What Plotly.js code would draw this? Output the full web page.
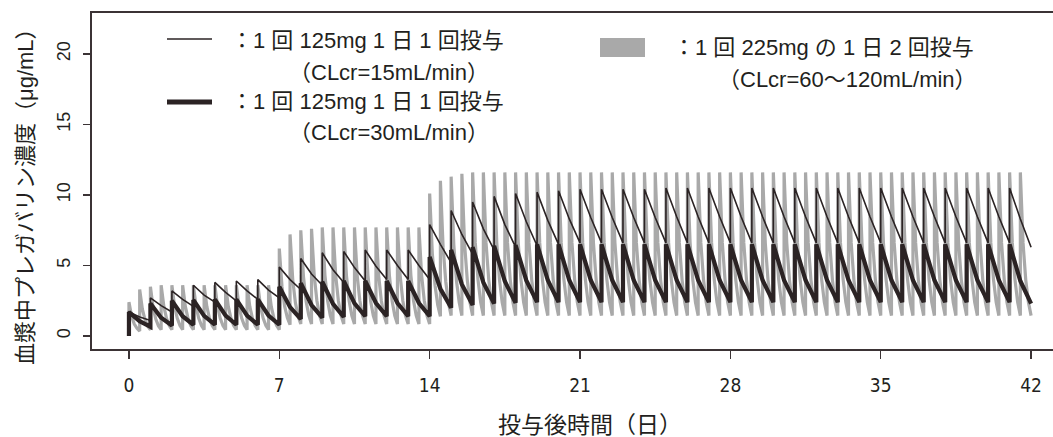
<!DOCTYPE html>
<html>
<head>
<meta charset="utf-8">
<script src="https://cdn.plot.ly/plotly-3.0.1.min.js"></script>
<style>html,body{margin:0;padding:0;background:#fff;}#chart{width:1053px;height:437px;}</style>
</head>
<body>
<div id="chart"></div>
<script>
// ---- data ----
const xTicks = [0, 7, 14, 21, 28, 35, 42];
const yTicks = [0, 5, 10, 15, 20];

// 125mg once daily, CLcr=15mL/min : at dose peak, +12h, +24h (trough)
const thinPeak = [1.7,2.7,3.2,3.6,3.8,3.9,4.0, 4.9,5.5,5.9,6.0,6.1,6.1,6.1, 7.9,8.9,9.5,9.9,10.1,10.2,10.3,
  10.4,10.4,10.4,10.4,10.5,10.5,10.5, 10.5,10.5,10.5,10.5,10.5,10.5,10.5, 10.5,10.5,10.5,10.5,10.5,10.5,10.5];
const thinMid = [1.35,2.15,2.6,2.9,3.1,3.2,3.25, 4.0,4.4,4.7,4.85,4.95,5.0,5.0, 6.5,7.2,7.6,7.9,8.1,8.2,8.3,
  8.4,8.4,8.4,8.4,8.45,8.45,8.45, 8.45,8.45,8.45,8.45,8.45,8.45,8.45, 8.45,8.45,8.45,8.45,8.45,8.45,8.3];
const thinTrough = [1.1,1.7,2.1,2.4,2.5,2.6,2.7, 3.3,3.6,3.8,3.9,4.0,4.0,4.0, 5.2,5.8,6.1,6.3,6.4,6.5,6.6,
  6.6,6.6,6.6,6.6,6.6,6.6,6.6, 6.6,6.6,6.6,6.6,6.6,6.6,6.6, 6.6,6.6,6.6,6.6,6.6,6.6,6.3];

// 125mg once daily, CLcr=30mL/min
const thickPeak = [1.7,2.3,2.5,2.55,2.6,2.6,2.6, 3.5,3.75,3.85,3.9,3.9,3.9,3.9, 5.6,6.1,6.3,6.4,6.45,6.5,6.5,
  6.5,6.5,6.5,6.5,6.5,6.5,6.5, 6.5,6.5,6.5,6.5,6.5,6.5,6.5, 6.5,6.5,6.5,6.5,6.5,6.5,6.5];
const thickMid = [1.05,1.3,1.4,1.43,1.44,1.44,1.44, 2.05,2.2,2.28,2.32,2.34,2.34,2.34, 3.35,3.66,3.8,3.88,3.94,3.95,3.95,
  3.95,3.95,3.95,3.95,3.95,3.95,3.95, 3.95,3.95,3.95,3.95,3.95,3.95,3.95, 3.95,3.95,3.95,3.95,3.95,3.95,3.9];
const thickTrough = [0.65,0.75,0.8,0.8,0.8,0.8,0.8, 1.2,1.3,1.35,1.4,1.4,1.4,1.4, 2.0,2.2,2.3,2.35,2.4,2.4,2.4,
  2.4,2.4,2.4,2.4,2.4,2.4,2.4, 2.4,2.4,2.4,2.4,2.4,2.4,2.4, 2.4,2.4,2.4,2.4,2.4,2.4,2.3];

// 225mg twice daily, CLcr=60~120mL/min : peak, +3h, +6h, +9h, +12h (trough); 14 doses per week
const grayPeak = [
  2.4,3.3,3.5,3.6,3.6,3.6,3.6,3.6,3.6,3.6,3.6,3.6,3.6,3.6,
  6.2,7.2,7.5,7.6,7.7,7.7,7.7,7.7,7.7,7.7,7.7,7.7,7.7,7.7,
  10.1,11.0,11.3,11.5,11.6,11.6,11.6,11.6,11.6,11.6,11.6,11.6,11.6,11.6,
  11.6,11.6,11.6,11.6,11.6,11.6,11.6,11.6,11.6,11.6,11.6,11.6,11.6,11.6,
  11.6,11.6,11.6,11.6,11.6,11.6,11.6,11.6,11.6,11.6,11.6,11.6,11.6,11.6,
  11.6,11.6,11.6,11.6,11.6,11.6,11.6,11.6,11.6,11.6,11.6,11.6,11.6,11.6];
const grayQ1 = [
  1.4,1.9,2.0,2.1,2.1,2.1,2.1,2.1,2.1,2.1,2.1,2.1,2.1,2.1,
  3.5,4.0,4.2,4.3,4.3,4.3,4.3,4.3,4.3,4.3,4.3,4.3,4.3,4.3,
  5.8,6.3,6.45,6.55,6.6,6.6,6.6,6.6,6.6,6.6,6.6,6.6,6.6,6.6,
  6.6,6.6,6.6,6.6,6.6,6.6,6.6,6.6,6.6,6.6,6.6,6.6,6.6,6.6,
  6.6,6.6,6.6,6.6,6.6,6.6,6.6,6.6,6.6,6.6,6.6,6.6,6.6,6.6,
  6.6,6.6,6.6,6.6,6.6,6.6,6.6,6.6,6.6,6.6,6.6,6.6,6.6,6.6];
const grayMid = [
  0.85,1.15,1.2,1.25,1.25,1.25,1.25,1.25,1.25,1.25,1.25,1.25,1.25,1.25,
  2.1,2.35,2.45,2.5,2.5,2.5,2.5,2.5,2.5,2.5,2.5,2.5,2.5,2.5,
  3.6,3.85,3.9,4.0,4.0,4.0,4.0,4.0,4.0,4.0,4.0,4.0,4.0,4.0,
  4.0,4.0,4.0,4.0,4.0,4.0,4.0,4.0,4.0,4.0,4.0,4.0,4.0,4.0,
  4.0,4.0,4.0,4.0,4.0,4.0,4.0,4.0,4.0,4.0,4.0,4.0,4.0,4.0,
  4.0,4.0,4.0,4.0,4.0,4.0,4.0,4.0,4.0,4.0,4.0,4.0,4.0,4.0];
const grayQ3 = [
  0.55,0.7,0.72,0.75,0.75,0.75,0.75,0.75,0.75,0.75,0.75,0.75,0.75,0.75,
  1.3,1.4,1.45,1.45,1.45,1.45,1.45,1.45,1.45,1.45,1.45,1.45,1.45,1.45,
  2.2,2.35,2.4,2.4,2.4,2.4,2.4,2.4,2.4,2.4,2.4,2.4,2.4,2.4,
  2.4,2.4,2.4,2.4,2.4,2.4,2.4,2.4,2.4,2.4,2.4,2.4,2.4,2.4,
  2.4,2.4,2.4,2.4,2.4,2.4,2.4,2.4,2.4,2.4,2.4,2.4,2.4,2.4,
  2.4,2.4,2.4,2.4,2.4,2.4,2.4,2.4,2.4,2.4,2.4,2.4,2.4,2.4];
const grayTrough = [
  0.35,0.45,0.45,0.45,0.45,0.45,0.45,0.45,0.45,0.45,0.45,0.45,0.45,0.45,
  0.8,0.85,0.85,0.85,0.85,0.85,0.85,0.85,0.85,0.85,0.85,0.85,0.85,0.85,
  1.4,1.45,1.45,1.45,1.45,1.45,1.45,1.45,1.45,1.45,1.45,1.45,1.45,1.45,
  1.45,1.45,1.45,1.45,1.45,1.45,1.45,1.45,1.45,1.45,1.45,1.45,1.45,1.45,
  1.45,1.45,1.45,1.45,1.45,1.45,1.45,1.45,1.45,1.45,1.45,1.45,1.45,1.45,
  1.45,1.45,1.45,1.45,1.45,1.45,1.45,1.45,1.45,1.45,1.45,1.45,1.45,1.45];

const legendTexts = [
  '：1 回 125mg 1 日 1 回投与', '（CLcr=15mL/min）',
  '：1 回 125mg 1 日 1 回投与', '（CLcr=30mL/min）',
  '：1 回 225mg の 1 日 2 回投与', '（CLcr=60〜120mL/min）'
];
const xTitle = '投与後時間（日）';
const yTitle = '血漿中プレガバリン濃度（μg/mL）';

// ---- sawtooth: dose at t, then the sampled values at t + f*tau for each fraction f ----
function sawtooth(tau, fractions, series) {
  const x = [0], y = [0];
  for (let i = 0; i < series[0].length; i++) {
    const t = i * tau;
    fractions.forEach((f, k) => { x.push(t + f * tau); y.push(series[k][i]); });
  }
  return {x, y};
}
const thin = sawtooth(1, [0, 0.5, 1], [thinPeak, thinMid, thinTrough]);
const thick = sawtooth(1, [0, 0.5, 1], [thickPeak, thickMid, thickTrough]);
const gray = sawtooth(0.5, [0, 0.25, 0.5, 0.75, 1], [grayPeak, grayQ1, grayMid, grayQ3, grayTrough]);

const DARK = '#2b2324';
const GRAY = '#a9a9a9';

const traces = [
  {x: gray.x, y: gray.y, mode: 'lines', line: {color: GRAY, width: 3.2}, hoverinfo: 'skip'},
  {x: thick.x, y: thick.y, mode: 'lines', line: {color: DARK, width: 4.2}, hoverinfo: 'skip'},
  {x: thin.x, y: thin.y, mode: 'lines', line: {color: DARK, width: 1.6}, hoverinfo: 'skip'}
];

const L = 92, R = 1053, T = 13, B = 349;
const px = v => (v - L) / (R - L);
const py = v => (B - v) / (B - T);

const FONT = 'Liberation Sans, Arial, Noto Sans CJK JP, sans-serif';
const legendFont = {family: FONT, size: 22, color: '#231f20'};

const annotations = [
  {text: legendTexts[0], x: px(229), y: py(40), xanchor: 'left', yanchor: 'middle'},
  {text: legendTexts[1], x: px(287), y: py(72), xanchor: 'left', yanchor: 'middle'},
  {text: legendTexts[2], x: px(229), y: py(102), xanchor: 'left', yanchor: 'middle'},
  {text: legendTexts[3], x: px(287), y: py(132), xanchor: 'left', yanchor: 'middle'},
  {text: legendTexts[4], x: px(671), y: py(48), xanchor: 'left', yanchor: 'middle'},
  {text: legendTexts[5], x: px(716), y: py(80), xanchor: 'left', yanchor: 'middle'},
].map(a => Object.assign(a, {xref: 'paper', yref: 'paper', showarrow: false, font: legendFont}));

annotations.push({text: xTitle, xref: 'paper', yref: 'paper', x: px(590), y: py(425), xanchor: 'center', yanchor: 'middle',
  showarrow: false, font: {family: FONT, size: 23, color: '#231f20'}});
annotations.push({text: yTitle, xref: 'paper', yref: 'paper', x: px(25), y: py(191), xanchor: 'center', yanchor: 'middle',
  textangle: -90, showarrow: false, font: {family: FONT, size: 22, color: '#231f20'}});

const shapes = [
  {type: 'line', xref: 'paper', yref: 'paper', x0: px(167), x1: px(212), y0: py(39), y1: py(39), line: {color: DARK, width: 1.6}},
  {type: 'line', xref: 'paper', yref: 'paper', x0: px(167), x1: px(212), y0: py(102), y1: py(102), line: {color: DARK, width: 5}},
  {type: 'rect', xref: 'paper', yref: 'paper', x0: px(600), x1: px(645), y0: py(57), y1: py(38), line: {width: 0}, fillcolor: GRAY}
];

const layout = {
  width: 1053, height: 437,
  margin: {l: L, r: 0, t: T, b: 437 - B, pad: 0},
  paper_bgcolor: '#fff', plot_bgcolor: '#fff',
  showlegend: false,
  font: {family: FONT, color: '#231f20'},
  xaxis: {
    range: [-1.72, 43.02], tickvals: xTicks, ticktext: xTicks.map(String),
    showgrid: false, zeroline: false, showline: true, mirror: true, linecolor: '#3b3335', linewidth: 2,
    ticks: 'outside', ticklen: 8, tickwidth: 1.5, tickcolor: '#3b3335', ticklabelstandoff: 10,
    tickfont: {family: 'Liberation Sans Narrow, DejaVu Sans Condensed, Liberation Sans, sans-serif', size: 19, color: '#231f20'}
  },
  yaxis: {
    range: [-0.92, 22.9], tickvals: yTicks, ticktext: yTicks.map(String), tickangle: -90,
    showgrid: false, zeroline: false, showline: true, linecolor: '#3b3335', linewidth: 2,
    ticks: 'outside', ticklen: 7, tickwidth: 1.5, tickcolor: '#3b3335', ticklabelstandoff: 6,
    tickfont: {family: FONT, size: 18, color: '#231f20'}
  },
  annotations, shapes
};

Plotly.newPlot('chart', traces, layout, {displayModeBar: false, staticPlot: true});
</script>
</body>
</html>
